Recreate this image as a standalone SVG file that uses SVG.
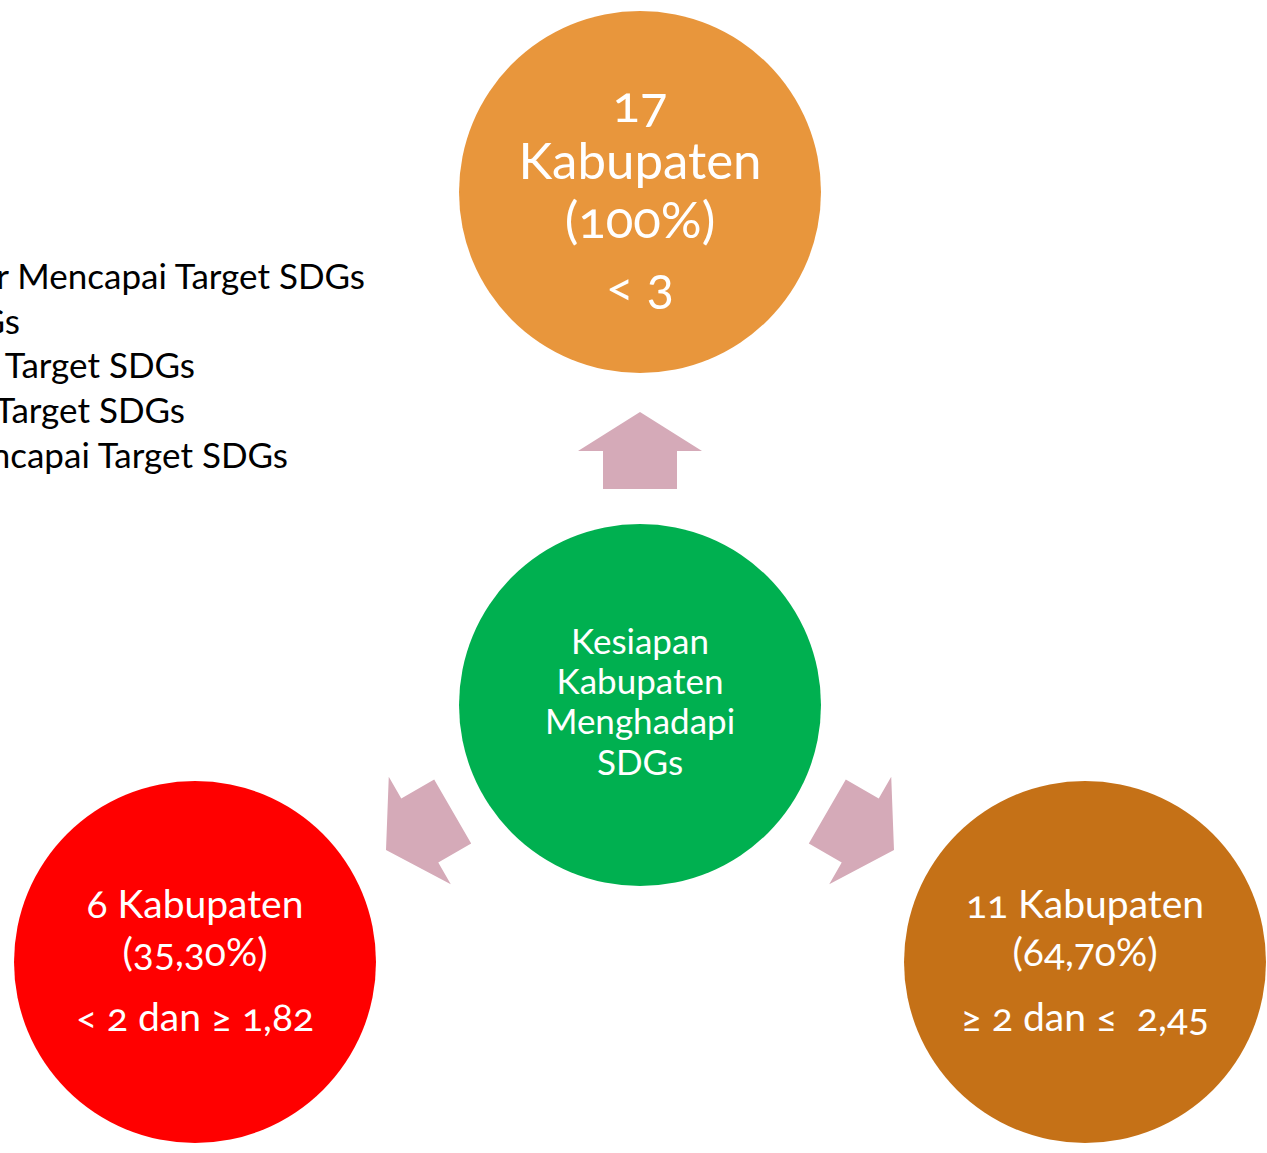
<svg xmlns="http://www.w3.org/2000/svg" width="1267" height="1153" viewBox="0 0 1267 1153">
  <style>
    text { font-family: Lato, "Open Sans", "Liberation Sans", sans-serif; font-variant-numeric: oldstyle-nums; }
    .w { fill: #ffffff; text-anchor: middle; }
    .big { font-size: 51px; }
    .mid { font-size: 39px; }
    .sm { font-size: 35px; }
    .legend { fill: #000000; font-size: 35px; text-anchor: end; }
    .arrow { fill: #D5AAB8; }
  </style>
  <defs>
    <!-- block arrow pointing up, origin at the tip -->
    <polygon id="blockArrow" points="0,0 62,39 37,39 37,77 -37,77 -37,39 -62,39"/>
  </defs>
  <rect width="1267" height="1153" fill="#ffffff"/>

  <!-- legend lines, running off the left edge -->
  <g id="legend" class="legend">
    <text x="365" y="289">r Mencapai Target SDGs</text>
    <text x="20" y="334">Gs</text>
    <text x="195" y="378">Target SDGs</text>
    <text x="185" y="423">Target SDGs</text>
    <text x="288" y="468">ncapai Target SDGs</text>
  </g>

  <g id="connectors" class="arrow">
    <use href="#blockArrow" transform="translate(640,412)"/>
    <use href="#blockArrow" transform="translate(386,850) rotate(-120)"/>
    <use href="#blockArrow" transform="translate(894,850) rotate(120)"/>
  </g>

  <g id="node-top">
    <circle cx="640" cy="192" r="181" fill="#E8963C"/>
    <text class="w big" x="640" y="122">17</text>
    <text class="w big" x="640" y="179">Kabupaten</text>
    <text class="w big" x="640" y="238">(100%)</text>
    <text class="w big" x="640" y="304">&lt; 3</text>
  </g>

  <g id="node-center">
    <circle cx="640" cy="705" r="181" fill="#00B050"/>
    <text class="w sm" x="640" y="654">Kesiapan</text>
    <text class="w sm" x="640" y="694">Kabupaten</text>
    <text class="w sm" x="640" y="734">Menghadapi</text>
    <text class="w sm" x="640" y="775">SDGs</text>
  </g>

  <g id="node-left">
    <circle cx="195" cy="962" r="181" fill="#FF0000"/>
    <text class="w mid" x="195" y="918">6 Kabupaten</text>
    <text class="w mid" x="195" y="966">(35,30%)</text>
    <text class="w mid" x="195" y="1031">&lt; 2 dan ≥ 1,82</text>
  </g>

  <g id="node-right">
    <circle cx="1085" cy="962" r="181" fill="#C57117"/>
    <text class="w mid" x="1085" y="918">11 Kabupaten</text>
    <text class="w mid" x="1085" y="966">(64,70%)</text>
    <text class="w mid" x="1085" y="1031" xml:space="preserve">≥ 2 dan ≤  2,45</text>
  </g>
</svg>
